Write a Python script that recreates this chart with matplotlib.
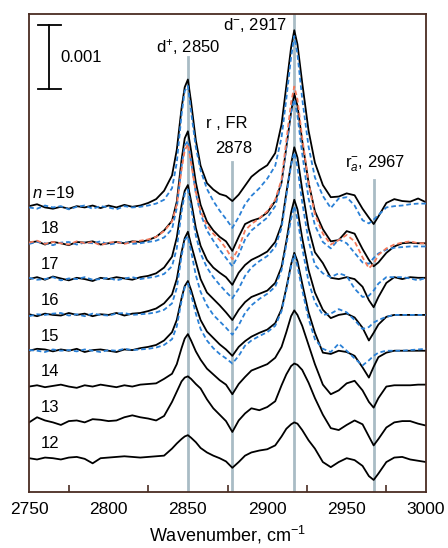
import numpy as np
import matplotlib
matplotlib.use("Agg")
import matplotlib.pyplot as plt

plt.rcParams['font.family'] = ['Liberation Sans', 'DejaVu Sans']
plt.rcParams['mathtext.fontset'] = 'custom'
plt.rcParams['mathtext.rm'] = 'Liberation Sans'
plt.rcParams['mathtext.it'] = 'Liberation Sans:italic'

# wavenumber grid shared by all spectra (cm-1)
wavenumber = [2750, 2755, 2760, 2765, 2770, 2775, 2780, 2785, 2790, 2795,
              2800, 2805, 2810, 2815, 2820, 2825, 2830, 2835, 2840, 2843,
              2846, 2848, 2850, 2852, 2855, 2858, 2862, 2866, 2870, 2874,
              2878, 2882, 2886, 2890, 2895, 2900, 2905, 2909, 2912, 2915,
              2917, 2919, 2922, 2926, 2930, 2935, 2940, 2945, 2950, 2955,
              2960, 2964, 2967, 2970, 2975, 2980, 2985, 2990, 2995, 3000]

# absorbance in units of 1e-4, relative to each spectrum's own baseline
# solid black spectra, n = 12 ... 19
black_12 = [0.0, -0.2, 0.1, 0.0, -0.2, 0.1, 0.2, -0.1, -0.8, 0.0, 0.1, 0.2, 0.3, 0.2, 0.1, 0.2, 0.3, 0.4, 1.5, 2.3,
            3.0, 3.4, 3.6, 3.2, 2.5, 1.6, 0.9, 0.4, 0.0, -0.5, -1.5, -0.6, 0.4, 0.9, 1.2, 1.4, 2.0, 3.4, 4.6, 5.3,
            5.6, 5.4, 4.4, 2.8, 1.5, -0.6, -1.4, -0.6, 0.0, -0.3, -1.2, -2.8, -3.4, -2.4, -0.6, 0.1, 0.2, -0.2, -0.4, -0.6]
black_13 = [0.0, 0.8, 0.3, 0.0, -0.4, 0.2, 0.3, 0.0, 0.5, 0.4, 0.2, 0.3, 0.8, 1.1, 0.8, 0.6, 0.3, 1.0, 3.2, 4.8,
            6.4, 7.0, 7.2, 6.8, 6.0, 5.3, 3.6, 2.2, 1.2, 0.2, -1.5, 0.3, 1.4, 2.2, 1.9, 2.4, 3.3, 5.8, 7.5, 8.8,
            9.2, 9.0, 8.2, 6.2, 3.8, 1.2, -0.9, -1.2, -0.4, 0.3, -0.3, -2.2, -3.6, -2.6, -0.8, 0.0, 0.2, 0.2, -0.2, -0.5]
black_14 = [0.0, 0.2, -0.1, 0.1, 0.3, 0.0, -0.2, 0.2, 0.0, 0.3, 0.1, -0.1, 0.2, 0.0, 0.3, 0.4, 0.5, 1.2, 2.0, 3.5,
            6.0, 7.5, 8.2, 7.2, 5.5, 4.2, 2.8, 1.9, 1.0, 0.3, -1.2, 0.4, 1.5, 2.5, 3.0, 3.5, 4.5, 6.2, 8.5, 11.0,
            11.9, 11.2, 9.5, 6.5, 3.5, 0.3, -1.2, -0.6, 0.5, 0.9, -0.6, -2.4, -3.3, -1.8, 0.0, 0.2, 0.2, 0.2, 0.3, 0.3]
black_15 = [0.0, 0.3, 0.2, -0.1, 0.2, 0.0, 0.3, -0.2, 0.1, 0.2, 0.0, -0.2, 0.2, 0.1, 0.4, 0.6, 0.9, 1.6, 2.9, 4.8,
            8.2, 10.1, 10.9, 9.5, 7.0, 4.8, 3.0, 2.0, 1.0, 0.2, -0.8, 0.6, 1.5, 2.2, 2.8, 3.3, 4.3, 6.5, 9.8, 13.5,
            15.3, 14.0, 10.5, 6.0, 2.8, -0.3, -0.5, 0.0, -0.2, -0.8, -2.6, -4.2, -2.5, -1.0, -0.3, 0.0, 0.0, 0.0, 0.0, 0.0]
black_16 = [0.1, -0.2, 0.2, 0.0, -0.1, 0.3, 0.0, 0.2, -0.2, 0.1, 0.0, 0.3, -0.1, 0.2, 0.3, 0.6, 1.0, 1.8, 3.2, 5.6,
            9.8, 12.0, 13.0, 11.0, 8.3, 5.6, 3.5, 2.5, 1.5, 0.4, -0.8, 0.8, 2.0, 2.8, 3.3, 3.8, 5.0, 7.5, 11.5, 16.0,
            18.0, 16.5, 12.0, 7.0, 3.5, 0.8, -0.5, 0.0, 0.2, -0.4, -2.0, -4.0, -2.8, -1.5, -0.3, 0.0, 0.0, 0.0, 0.0, 0.0]
black_17 = [0.0, 0.3, -0.1, 0.4, 0.1, -0.2, 0.2, 0.0, -0.3, 0.2, 0.0, 0.3, 0.1, -0.1, 0.3, 0.5, 0.9, 1.8, 3.5, 6.5,
            11.5, 13.8, 14.7, 12.2, 8.0, 5.2, 3.0, 1.8, 1.0, 0.3, -0.9, 1.0, 2.2, 3.0, 3.6, 4.3, 5.8, 8.5, 13.5, 18.0,
            20.6, 19.0, 14.0, 8.0, 4.2, 2.5, 0.2, 0.0, 0.3, 0.0, -1.2, -3.3, -4.4, -2.8, -0.6, 0.3, 0.0, 0.3, 0.2, 0.2]
black_18 = [0.1, 0.3, -0.2, 0.2, 0.0, -0.3, 0.2, 0.1, 0.3, -0.2, 0.0, 0.2, 0.0, 0.3, 0.2, 0.5, 1.0, 2.0, 3.5, 6.5,
            13.0, 16.4, 17.5, 14.5, 9.5, 6.0, 3.4, 2.0, 1.0, 0.3, -1.2, 1.0, 3.0, 3.5, 3.9, 4.8, 6.6, 9.5, 15.0, 20.5,
            23.4, 21.5, 16.0, 9.5, 5.0, 2.2, 0.3, 0.5, 1.9, 1.5, -0.9, -2.6, -3.6, -3.0, -1.5, -0.5, 0.0, 0.1, 0.0, 0.0]
black_19 = [0.2, 0.5, 0.0, -0.2, 0.1, -0.2, 0.2, 0.0, 0.3, -0.1, 0.3, 0.0, 0.4, 0.1, 0.3, 0.7, 1.3, 2.6, 5.0, 9.0,
            15.5, 18.8, 20.0, 16.5, 10.5, 6.5, 3.8, 2.8, 2.1, 1.8, 1.0, 2.0, 3.4, 4.8, 5.8, 6.6, 8.5, 13.0, 19.0, 25.0,
            27.7, 25.5, 19.5, 12.0, 7.0, 3.5, 1.6, 1.7, 2.2, 1.9, -0.2, -1.6, -2.6, -1.4, 0.7, 1.3, 1.0, 0.9, 1.4, 0.8]

# dashed blue spectra, n = 15 ... 19
blue_15 = [0.1, 0.0, -0.2, 0.2, 0.0, 0.1, -0.1, 0.2, 0.0, -0.2, 0.1, 0.0, 0.3, 0.1, 0.2, 0.3, 0.5, 0.9, 1.8, 3.8,
           7.8, 9.9, 10.5, 8.8, 5.8, 3.4, 1.6, 0.4, -0.5, -1.2, -2.0, -0.8, 0.8, 1.6, 2.3, 2.9, 3.9, 6.2, 9.5, 13.2,
           15.0, 13.2, 9.5, 5.0, 1.8, 0.3, -0.2, 1.1, 0.0, -1.2, -2.3, -1.5, -0.8, -0.3, 0.0, 0.0, 0.0, 0.1, 0.2, 0.3]
blue_16 = [-0.2, 0.1, 0.0, 0.2, 0.3, -0.1, 0.1, -0.2, 0.2, 0.0, -0.1, 0.2, 0.3, 0.0, 0.1, 0.2, 0.4, 0.8, 1.8, 4.2,
           9.2, 11.7, 12.3, 10.0, 6.2, 3.6, 1.5, 0.0, -1.0, -2.0, -3.1, -1.6, 0.3, 1.5, 2.5, 3.3, 4.4, 7.0, 11.0, 15.0,
           17.0, 15.0, 10.5, 5.2, 2.0, 0.0, 0.2, 0.9, 0.4, -0.8, -2.2, -1.9, -1.2, -0.8, -0.3, 0.0, 0.0, 0.0, 0.0, 0.0]
blue_17 = [0.2, -0.1, 0.0, 0.3, -0.2, 0.1, 0.0, 0.3, -0.1, 0.0, 0.2, -0.2, 0.1, 0.3, 0.0, 0.2, 0.4, 0.8, 2.0, 4.8,
           10.5, 13.3, 14.0, 11.2, 6.8, 4.0, 1.8, 0.3, -0.9, -2.0, -3.0, -1.5, 0.5, 1.8, 2.8, 3.6, 5.0, 8.0, 13.0, 17.8,
           19.8, 17.5, 12.0, 6.0, 2.2, 0.9, 0.3, 0.9, 0.5, -1.5, -2.8, -2.6, -1.8, -0.7, 0.3, 0.3, 0.3, 0.1, -0.2, 0.2]
blue_18 = [-0.1, 0.2, 0.0, -0.3, 0.1, 0.2, -0.2, 0.1, 0.0, 0.3, -0.2, 0.0, 0.2, -0.1, 0.0, 0.2, 0.4, 0.9, 2.2, 5.5,
           12.0, 15.3, 16.0, 12.8, 7.8, 4.6, 2.0, 0.4, -1.0, -2.3, -3.6, -1.8, 0.6, 2.0, 3.0, 4.0, 5.8, 9.5, 15.0, 20.5,
           22.5, 20.0, 14.0, 7.0, 2.8, 0.2, -0.8, 0.6, 0.0, -1.5, -3.0, -3.2, -2.3, -1.6, -1.0, -0.7, -0.6, -0.5, -0.5, -0.5]
blue_19 = [0.0, -0.2, 0.3, 0.0, 0.2, -0.3, 0.1, 0.3, -0.2, 0.2, 0.0, -0.3, 0.2, 0.0, 0.1, 0.3, 0.6, 1.2, 3.0, 7.0,
           14.5, 18.2, 19.0, 15.0, 9.4, 5.8, 2.9, 1.0, -0.5, -1.8, -3.2, -1.5, 0.5, 1.8, 3.0, 4.5, 6.5, 11.0, 17.0, 23.5,
           26.8, 24.0, 17.0, 9.5, 4.7, 1.8, -0.1, 1.4, 1.6, 0.3, -2.0, -2.5, -1.9, -1.2, 0.0, 0.2, 0.3, 0.5, 0.6, 0.6]

# dashed red spectrum, n = 18
red_18 = [0.1, 0.4, -0.1, 0.2, 0.0, -0.2, 0.3, 0.0, 0.2, -0.3, 0.1, 0.2, -0.1, 0.2, 0.4, 0.6, 1.0, 1.9, 3.4, 6.0,
          11.5, 14.5, 15.5, 12.5, 8.0, 5.0, 2.8, 1.5, 0.5, -0.8, -2.5, -0.8, 2.0, 3.0, 3.9, 5.0, 6.8, 10.0, 16.0, 22.0,
          24.5, 22.5, 16.5, 9.5, 4.5, 1.5, -0.2, 0.5, 1.3, 0.3, -2.2, -3.9, -3.2, -1.8, -0.8, -0.2, 0.1, 0.3, 0.0, 0.0]

n_values = [12, 13, 14, 15, 16, 17, 18, 19]
black_spectra = [black_12, black_13, black_14, black_15, black_16, black_17, black_18, black_19]
blue_n = [15, 16, 17, 18, 19]
blue_spectra = [blue_15, blue_16, blue_17, blue_18, blue_19]

band_positions = [2850, 2878, 2917, 2967]

unit = 1e-4          # spectra are stored in units of 1e-4
step = 5.6e-4        # vertical offset between successive n

wn = np.array(wavenumber)

fig = plt.figure(figsize=(4.48, 5.48), dpi=100)
ax = fig.add_axes([0.065, 0.102, 0.886, 0.872])

# guide lines at the band positions
line_tops = [0.91, 0.69, 1.0, 0.653]
for pos, top in zip(band_positions, line_tops):
    ax.axvline(pos, ymin=0, ymax=top, color='#a9bcc5', lw=2.0, zorder=0)

for n, spec in zip(n_values, black_spectra):
    off = (n - 12) * step
    ax.plot(wn, np.array(spec) * unit + off, color='black', lw=1.3, zorder=2)
    label = '$n$ =19' if n == 19 else str(n)
    xl = 2752 if n == 19 else 2757.5
    ax.text(xl, off + 2.3 * unit, label, fontsize=12, va='center', ha='left')

for n, spec in zip(blue_n, blue_spectra):
    off = (n - 12) * step
    ax.plot(wn, np.array(spec) * unit + off, color='#2a80d6', lw=1.3,
            dashes=(2.6, 1.6), zorder=3)

ax.plot(wn, np.array(red_18) * unit + 6 * step, color='#f2785a', lw=1.3,
        dashes=(2.6, 1.6), zorder=3)

# scale bar
ax.plot([2762.6, 2762.6], [57.7 * unit, 67.7 * unit], color='black', lw=1.3)
ax.plot([2755.3, 2769.8], [57.7 * unit, 57.7 * unit], color='black', lw=1.3)
ax.plot([2755.3, 2769.8], [67.7 * unit, 67.7 * unit], color='black', lw=1.3)
ax.text(2769.5, 62.6 * unit, '0.001', fontsize=12, va='center', ha='left')

# band annotations
trans = ax.get_xaxis_transform()
ax.text(2850, 0.931, 'd$^{+}$, 2850', transform=trans, fontsize=12, ha='center', va='center')
ax.text(2912.5, 0.977, 'd$^{-}$, 2917', transform=trans, fontsize=12, ha='right', va='center')
ax.text(2874.5, 0.772, 'r , FR', transform=trans, fontsize=12, ha='center', va='center')
ax.text(2879, 0.72, '2878', transform=trans, fontsize=12, ha='center', va='center')
ax.text(2968, 0.688, 'r$_{a}^{-}$, 2967', transform=trans, fontsize=12, ha='center', va='center')

ax.set_xlim(2750, 3000)
ax.set_ylim(-5.3 * unit, 69.4 * unit)
ax.set_yticks([])
ax.set_xticks(np.arange(2750, 3001, 50))
ax.set_xticks(np.arange(2775, 3000, 50), minor=True)
ax.tick_params(axis='x', which='major', length=0, pad=7, labelsize=12.5)
ax.tick_params(axis='x', which='minor', direction='in', length=5, width=1.2, color='#4a2c22')
ax.set_xlabel('Wavenumber, cm$^{-1}$', fontsize=13, labelpad=5)

for sp in ax.spines.values():
    sp.set_color('#4a2c22')
    sp.set_linewidth(1.3)

fig.savefig('out.png', dpi=100)
